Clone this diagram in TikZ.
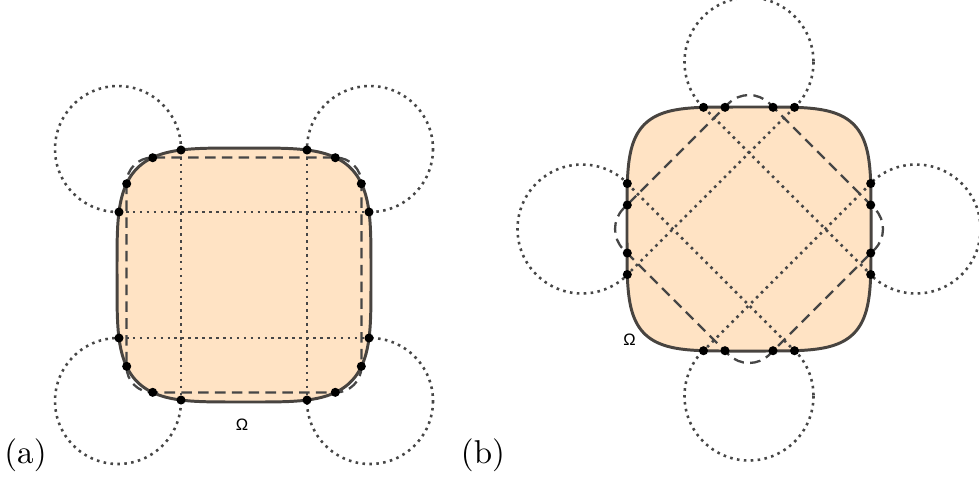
\documentclass[tikz,border=0pt]{standalone}
\usepackage{fontspec}
\newfontfamily\omegafont{Liberation Sans}
\definecolor{domaincolor}{RGB}{255,227,196}
\definecolor{edgecolor}{RGB}{72,68,64}
\definecolor{linecolor}{RGB}{70,70,70}

\begin{document}
\begin{tikzpicture}[x=0.303pt, y=-0.303pt,
    boundary/.style={draw=edgecolor, line width=0.9pt, fill=domaincolor},
    dotline/.style={draw=linecolor, line width=0.78pt, dash pattern=on 0.78pt off 1.32pt},
    dashline/.style={draw=linecolor, line width=0.7pt, dash pattern=on 3.2pt off 1.9pt},
    knot/.style={circle, fill=black, inner sep=0pt, minimum size=2.75pt},
    omega/.style={font=\fontsize{5}{6}\selectfont\omegafont, inner sep=0pt}
]
\useasboundingbox (0,0) rectangle (979,482);

% (a) axis-parallel grid
\begin{scope}[shift={(244,275)}]
    \foreach \sx in {-1,1}
        \foreach \sy in {-1,1}
            \draw[dotline] (126*\sx,126*\sy) circle (63);
    \path[boundary] plot[domain=0.5:358.5, samples=180]
        ({127*sign(cos(\x))*sqrt(abs(cos(\x)))}, {127*sign(sin(\x))*sqrt(abs(sin(\x)))}) -- cycle;
    \coordinate (aTl) at (-63,-125);
    \coordinate (aTr) at (63,-125);
    \coordinate (aBl) at (-63,125);
    \coordinate (aBr) at (63,125);
    \coordinate (aLt) at (-125,-63);
    \coordinate (aLb) at (-125,63);
    \coordinate (aRt) at (125,-63);
    \coordinate (aRb) at (125,63);
    \draw[dotline] (aTl) -- (aBl) (aTr) -- (aBr) (aLt) -- (aRt) (aLb) -- (aRb);
    \draw[dashline, rounded corners=7.9pt] (-117.5,-117.5) rectangle (117.5,117.5);
    \foreach \p in {aTl,aTr,aBl,aBr,aLt,aLb,aRt,aRb}
        \node[knot] (k\p) at (\p) {};
    \foreach \sx/\nx in {-1/l,1/r}
        \foreach \sy/\ny in {-1/t,1/b} {
            \node[knot] (ah\nx\ny) at (91.3*\sx,117.3*\sy) {};
            \node[knot] (av\nx\ny) at (117.3*\sx,91.3*\sy) {};
        }
\end{scope}

% (b) rotated grid
\begin{scope}[shift={(749,229)}]
    \foreach \c in {(0,-167),(167,0),(0,167),(-167,0)}
        \draw[dotline] \c circle (64.5);
    \path[boundary] plot[domain=0.5:358.5, samples=180]
        ({122*sign(cos(\x))*abs(cos(\x))^0.4444}, {122*sign(sin(\x))*abs(sin(\x))^0.4444}) -- cycle;
    \foreach \n/\v in {a/-45.5,b/-24,c/24,d/45.5} {
        \coordinate (bT\n) at (\v,-121.7);
        \coordinate (bB\n) at (\v,121.7);
        \coordinate (bL\n) at (-121.7,\v);
        \coordinate (bR\n) at (121.7,\v);
    }
    \draw[dotline] (bTa) -- (bRd) (bTd) -- (bLd) (bLa) -- (bBd) (bRa) -- (bBa);
    \draw[dashline, rounded corners=8.8pt] (0,-146) -- (146,0) -- (0,146) -- (-146,0) -- cycle;
    \foreach \s in {T,B,L,R}
        \foreach \n in {a,b,c,d}
            \node[knot] (k\s\n) at (b\s\n) {};
\end{scope}

\node[omega] (aomega) at (242,425) {Ω};
\node[omega] (bomega) at (629.5,340) {Ω};
\node[anchor=base] (alabel) at (25.5,463) {(a)};
\node[anchor=base] (blabel) at (483,463) {(b)};
\end{tikzpicture}
\end{document}
